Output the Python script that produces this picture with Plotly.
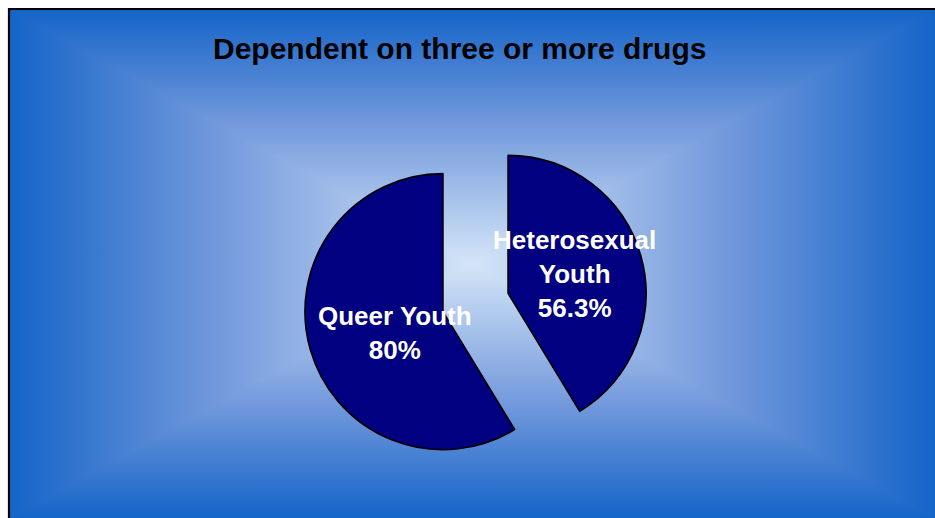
import base64
import plotly.graph_objects as go

# ---- data ----
title_text = "Dependent on three or more drugs"
labels = ["Heterosexual Youth", "Queer Youth"]
label_lines = ["Heterosexual<br>Youth", "Queer Youth"]
values = [56.3, 80]

W, H = 935, 518

# ---- background: rectangular "from centre" gradient as SVG ----
x0, y0, x1, y1 = 10, 10, 935, 518
cx, cy = 472, 264
edge = "#1464c8"
mid = "#7399dc"
centre = "#d4e5f7"


def grad(gid, ax, ay, bx, by):
    return (f'<linearGradient id="{gid}" gradientUnits="userSpaceOnUse" '
            f'x1="{ax}" y1="{ay}" x2="{bx}" y2="{by}">'
            f'<stop offset="0" stop-color="{edge}"/>'
            f'<stop offset="0.45" stop-color="{mid}"/>'
            f'<stop offset="1" stop-color="{centre}"/></linearGradient>')


def tri(pts, gid):
    return (f'<polygon points="{pts}" fill="url(#{gid})" stroke="url(#{gid})" '
            f'stroke-width="1.5" stroke-linejoin="round"/>')


svg = (f'<svg xmlns="http://www.w3.org/2000/svg" width="{W}" height="{H}" '
       f'viewBox="0 0 {W} {H}" preserveAspectRatio="none"><defs>'
       + grad("gt", 0, y0, 0, cy)
       + grad("gb", 0, y1, 0, cy)
       + grad("gl", x0, 0, cx, 0)
       + grad("gr", x1, 0, cx, 0)
       + '</defs>'
       + f'<rect x="{x0}" y="{y0}" width="{x1 - x0}" height="{y1 - y0}" fill="{mid}"/>'
       + tri(f"{x0},{y0} {x1},{y0} {cx},{cy}", "gt")
       + tri(f"{x0},{y1} {x1},{y1} {cx},{cy}", "gb")
       + tri(f"{x0},{y0} {x0},{y1} {cx},{cy}", "gl")
       + tri(f"{x1},{y0} {x1},{y1} {cx},{cy}", "gr")
       + '</svg>')
svg_uri = "data:image/svg+xml;base64," + base64.b64encode(svg.encode()).decode()

# pie centre and square domain size in px
pc_x, pc_y, box = 475.5, 302.5, 343.6

fig = go.Figure()
fig.add_trace(go.Pie(
    labels=labels,
    values=values,
    sort=False,
    direction="clockwise",
    rotation=0,
    pull=[0.245, 0.245],
    marker=dict(colors=["#000080", "#000080"], line=dict(color="#000000", width=1.6)),
    textinfo="none",
    hoverinfo="label+value",
    showlegend=False,
    domain=dict(x=[(pc_x - box / 2) / W, (pc_x + box / 2) / W],
                y=[1 - (pc_y + box / 2) / H, 1 - (pc_y - box / 2) / H]),
))

font_face = "Liberation Sans, Arial, sans-serif"
label_px = [(574.5, 274), (395, 333)]
annotations = [dict(
    text=f"<b>{title_text}</b>", x=459 / W, y=1 - 48 / H, xref="paper", yref="paper",
    showarrow=False, font=dict(family=font_face, size=30, color="#000000"),
    xanchor="center", yanchor="middle")]
for (px, py), lab, v in zip(label_px, label_lines, values):
    annotations.append(dict(
        text=f"<b>{lab}<br>{v:g}%</b>", x=px / W, y=1 - py / H, xref="paper", yref="paper",
        showarrow=False, font=dict(family=font_face, size=26, color="#ffffff"),
        xanchor="center", yanchor="middle", align="center"))

fig.update_layout(
    width=W, height=H,
    margin=dict(l=0, r=0, t=0, b=0),
    paper_bgcolor="#ffffff",
    plot_bgcolor="#ffffff",
    images=[dict(source=svg_uri, xref="paper", yref="paper", x=0, y=1,
                 sizex=1, sizey=1, sizing="stretch", layer="below",
                 xanchor="left", yanchor="top")],
    shapes=[dict(type="rect", xref="paper", yref="paper",
                 x0=9 / W, x1=1.05, y0=-0.05, y1=1 - 9 / H,
                 line=dict(color="#000000", width=2.2), fillcolor="rgba(0,0,0,0)")],
    annotations=annotations,
)

fig.write_html(
    "out.html",
    config={"displayModeBar": False},
    post_script="document.body.style.margin='0';"
                "document.documentElement.style.overflow='hidden';",
)
